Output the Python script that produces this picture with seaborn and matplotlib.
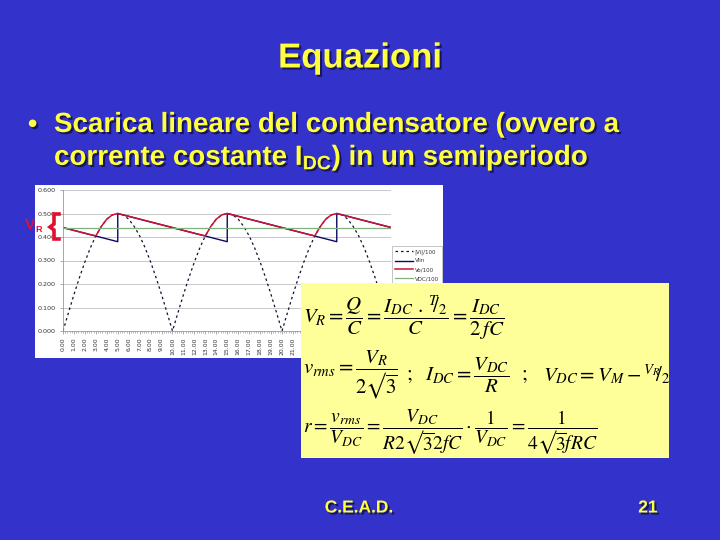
import matplotlib
matplotlib.use('Agg')
import matplotlib.pyplot as plt
import matplotlib.patheffects as pe
from matplotlib.patches import Rectangle
from matplotlib.lines import Line2D
from matplotlib.ticker import MultipleLocator
import seaborn as sns

# ---------------- data ----------------
time_ms = [0.0, 0.5, 1.0, 1.5, 2.0, 2.5, 3.0, 3.5, 4.0, 4.5,
           5.0, 5.5, 6.0, 6.5, 7.0, 7.5, 8.0, 8.5, 9.0, 9.5,
           10.0, 10.5, 11.0, 11.5, 12.0, 12.5, 13.0, 13.5, 14.0, 14.5,
           15.0, 15.5, 16.0, 16.5, 17.0, 17.5, 18.0, 18.5, 19.0, 19.5,
           20.0, 20.5, 21.0, 21.5, 22.0, 22.5, 23.0, 23.5, 24.0, 24.5,
           25.0, 25.5, 26.0, 26.5, 27.0, 27.5, 28.0, 28.5, 29.0, 29.5, 30.0]

v_in_abs = [0.000, 0.078, 0.155, 0.227, 0.294, 0.354, 0.405, 0.445, 0.476, 0.494,
            0.500, 0.494, 0.476, 0.445, 0.405, 0.354, 0.294, 0.227, 0.155, 0.078,
            0.000, 0.078, 0.155, 0.227, 0.294, 0.354, 0.405, 0.445, 0.476, 0.494,
            0.500, 0.494, 0.476, 0.445, 0.405, 0.354, 0.294, 0.227, 0.155, 0.078,
            0.000, 0.078, 0.155, 0.227, 0.294, 0.354, 0.405, 0.445, 0.476, 0.494,
            0.500, 0.494, 0.476, 0.445, 0.405, 0.354, 0.294, 0.227, 0.155, 0.078, 0.000]

v_out = [0.440, 0.434, 0.428, 0.422, 0.416, 0.410, 0.405, 0.445, 0.476, 0.494,
         0.500, 0.494, 0.488, 0.482, 0.476, 0.470, 0.464, 0.458, 0.452, 0.446,
         0.440, 0.434, 0.428, 0.422, 0.416, 0.410, 0.405, 0.445, 0.476, 0.494,
         0.500, 0.494, 0.488, 0.482, 0.476, 0.470, 0.464, 0.458, 0.452, 0.446,
         0.440, 0.434, 0.428, 0.422, 0.416, 0.410, 0.405, 0.445, 0.476, 0.494,
         0.500, 0.494, 0.488, 0.482, 0.476, 0.470, 0.464, 0.458, 0.452, 0.446, 0.440]

lin_time = [0.0, 5.0, 5.0, 15.0, 15.0, 25.0, 25.0, 30.0]
lin_vals = [0.440, 0.380, 0.500, 0.380, 0.500, 0.380, 0.500, 0.440]

vdc_time = [0.0, 30.0]
vdc_vals = [0.440, 0.440]

series_labels = ['|Vi|/100', 'Vlin', 'Vo/100', 'VDC/100']
y_ticks = [0.0, 0.1, 0.2, 0.3, 0.4, 0.5, 0.6]
y_tick_labels = ['0.000', '0.100', '0.200', '0.300', '0.400', '0.500', '0.600']
x_ticks = list(range(0, 22))
x_tick_labels = ['%d.00' % v for v in x_ticks]

# ---------------- figure ----------------
W, H = 720, 540
BG = '#3333CC'
YEL = '#FFFF40'
fig = plt.figure(figsize=(7.2, 5.4), dpi=100, facecolor=BG)


def fx(x):
    return x / W


def fy(y):
    return 1 - y / H


shadow = [pe.withSimplePatchShadow(offset=(1.5, -1.5), shadow_rgbFace='#10103a', alpha=0.8)]

# title
fig.text(fx(360), fy(58), 'Equazioni', color=YEL, fontsize=25, fontweight='bold',
         family='Liberation Sans', ha='center', va='center', path_effects=shadow)

# bullet
plt.rcParams['mathtext.fontset'] = 'custom'
plt.rcParams['mathtext.rm'] = 'Liberation Sans:bold'
plt.rcParams['mathtext.it'] = 'Liberation Sans:bold'
plt.rcParams['mathtext.bf'] = 'Liberation Sans:bold'
fig.text(fx(28), fy(125), '\u2022', color=YEL, fontsize=19, fontweight='bold',
         family='Liberation Sans', ha='left', va='center', path_effects=shadow)
fig.text(fx(54), fy(125), 'Scarica lineare del condensatore (ovvero a', color=YEL,
         fontsize=20, fontweight='bold', family='Liberation Sans', ha='left', va='center',
         path_effects=shadow)
fig.text(fx(54), fy(158), r'corrente costante I$_{\mathrm{DC}}$) in un semiperiodo', color=YEL,
         fontsize=20, fontweight='bold', family='Liberation Sans', ha='left', va='center',
         path_effects=shadow, math_fontfamily='custom')

# footer
fig.text(fx(359), fy(508), 'C.E.A.D.', color=YEL, fontsize=12.5, fontweight='bold',
         family='Liberation Sans', ha='center', va='center', path_effects=shadow)
fig.text(fx(648), fy(508), '21', color=YEL, fontsize=12.5, fontweight='bold',
         family='Liberation Sans', ha='center', va='center', path_effects=shadow)

# white chart background
fig.add_artist(Rectangle((fx(35), fy(358)), fx(443 - 35), (358 - 185) / H,
                         transform=fig.transFigure, facecolor='white', edgecolor='none', zorder=-1))

# chart axes
ax = fig.add_axes([fx(63), fy(331), fx(391.5 - 63), (331 - 190) / H])
ax.set_facecolor('white')

sns.lineplot(x=time_ms, y=v_in_abs, ax=ax, color='#101030', linestyle=(0, (2.0, 2.4)),
             linewidth=0.9, estimator=None, sort=False, label=series_labels[0])
sns.lineplot(x=lin_time, y=lin_vals, ax=ax, color='#0a0a66', linewidth=1.0,
             estimator=None, sort=False, label=series_labels[1])
sns.lineplot(x=time_ms, y=v_out, ax=ax, color='#CC1133', linewidth=1.1,
             estimator=None, sort=False, label=series_labels[2])
sns.lineplot(x=vdc_time, y=vdc_vals, ax=ax, color='#7FB27F', linewidth=0.9,
             estimator=None, sort=False, label=series_labels[3])

ax.set_xlim(0, 30)
ax.set_ylim(0, 0.6)
ax.set_yticks(y_ticks)
ax.set_yticklabels(y_tick_labels, fontsize=4.6, color='#333333', family='DejaVu Sans')
ax.set_xticks(x_ticks)
ax.set_xticklabels(x_tick_labels, rotation=90, fontsize=4.4, color='#333333', family='DejaVu Sans')
ax.xaxis.set_minor_locator(MultipleLocator(0.2))
ax.tick_params(axis='x', which='major', length=2.5, width=0.5, color='#888888', pad=2)
ax.tick_params(axis='x', which='minor', length=1.5, width=0.4, color='#888888')
ax.tick_params(axis='y', which='major', length=2, width=0.5, color='#888888', pad=3)
ax.grid(axis='y', color='#C8C8C8', linewidth=0.7)
ax.set_axisbelow(True)
for s in ['top', 'right']:
    ax.spines[s].set_visible(False)
for s in ['left', 'bottom']:
    ax.spines[s].set_color('#999999')
    ax.spines[s].set_linewidth(0.6)
ax.set_xlabel('')
ax.set_ylabel('')
handles, labels = ax.get_legend_handles_labels()
leg = ax.legend(handles, labels, loc='upper left', bbox_to_anchor=(fx(389), fy(243)),
                bbox_transform=fig.transFigure, fontsize=4.0, frameon=True, fancybox=False,
                edgecolor='#999999', handlelength=3.2, borderpad=0.6, labelspacing=0.7,
                handletextpad=0.3)
leg.get_frame().set_linewidth(0.5)
for t in leg.get_texts():
    t.set_color('#333333')

# V_R bracket
RED = '#E01030'
bx = [59, 54, 54, 50, 54, 54, 59]
by = [214, 214, 224, 227, 230, 239, 239]
fig.add_artist(Line2D([fx(v) for v in bx], [fy(v) for v in by], transform=fig.transFigure,
                      color=RED, linewidth=2.6, solid_joinstyle='miter'))
fig.text(fx(30), fy(225), 'V', color=RED, fontsize=11, fontweight='bold',
         family='Liberation Sans', ha='center', va='center')
fig.text(fx(38.5), fy(230), 'R', color=RED, fontsize=6.5, fontweight='bold',
         family='Liberation Sans', ha='center', va='center')

# formula box
fig.add_artist(Rectangle((fx(301), fy(458)), fx(669 - 301), (458 - 283) / H,
                         transform=fig.transFigure, facecolor='#FFFF99', edgecolor='none', zorder=5))

fkw = dict(color='black', math_fontfamily='stix', ha='left', va='center', zorder=6)
fig.text(fx(303), fy(318),
         r'$V_R=\dfrac{Q}{C}=\dfrac{I_{DC}\ .\,{}^{T}\!\!/_{2}}{C}=\dfrac{I_{DC}}{2\,fC}$',
         fontsize=15, **fkw)
fig.text(fx(303), fy(375), r'$v_{rms}=\dfrac{V_R}{2√\overline{3}}$', fontsize=15, **fkw)
fig.text(fx(406), fy(375), r'$;$', fontsize=15, **fkw)
fig.text(fx(425), fy(375), r'$I_{DC}=\dfrac{V_{DC}}{R}$', fontsize=15, **fkw)
fig.text(fx(521), fy(375), r'$;$', fontsize=15, **fkw)
fig.text(fx(543), fy(375), r'$V_{DC}=V_M-{}^{V_R}\!\!/_{2}$', fontsize=15, **fkw)
fig.text(fx(303), fy(432),
         r'$r=\dfrac{v_{rms}}{V_{DC}}=\dfrac{V_{DC}}{R2√\overline{3}2fC}\cdot\dfrac{1}{V_{DC}}=\dfrac{1}{4√\overline{3}fRC}$',
         fontsize=14, **fkw)

fig.savefig('out.png', dpi=100, facecolor=BG)
